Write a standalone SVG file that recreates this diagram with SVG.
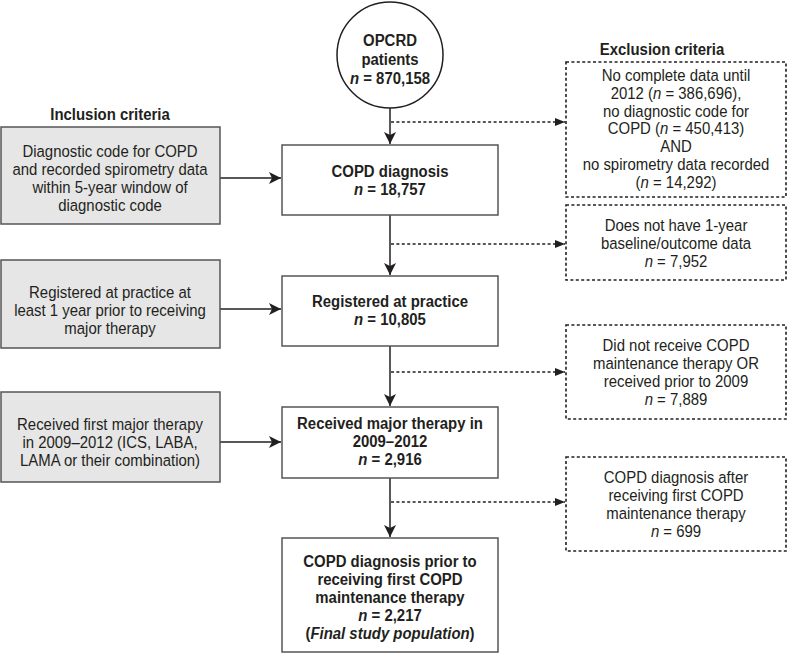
<svg xmlns="http://www.w3.org/2000/svg" width="787" height="656" viewBox="0 0 787 656">
<defs>
<style>
text{font-family:"Liberation Sans",Arial,sans-serif;font-size:16.6px;fill:#231f20;text-anchor:middle}
.b{font-weight:bold}
.i{font-style:italic}
.inc{fill:#e6e6e6;stroke:#555;stroke-width:1.5}
.main{fill:#fff;stroke:#555;stroke-width:1.5}
.exc{fill:#fff;stroke:#231f20;stroke-width:1.6;stroke-dasharray:3 2.4}
.solid{stroke:#231f20;stroke-width:1.5;fill:none}
.dot{stroke:#231f20;stroke-width:1.6;fill:none;stroke-dasharray:3 2.4}
</style>
<marker id="ah" markerWidth="12" markerHeight="12" refX="12" refY="6" orient="auto" markerUnits="userSpaceOnUse">
<path d="M0,0 L12,6 L0,12 L3,6 Z" fill="#231f20"/>
</marker>
<marker id="ahs" markerWidth="10" markerHeight="8" refX="10" refY="4" orient="auto" markerUnits="userSpaceOnUse">
<path d="M0,0 L10,4 L0,8 Z" fill="#231f20"/>
</marker>
</defs>

<g id="titles">
<g transform="matrix(0.9,0,0,1,110,0)"><text class="b" x="0" y="120">Inclusion criteria</text></g>
<g transform="matrix(0.9,0,0,1,662,0)"><text class="b" x="0" y="55">Exclusion criteria</text></g>
</g>

<g id="connectors">
<line class="solid" x1="390" y1="108" x2="390" y2="144" marker-end="url(#ah)"/>
<line class="solid" x1="390" y1="215" x2="390" y2="275" marker-end="url(#ah)"/>
<line class="solid" x1="390" y1="346" x2="390" y2="406" marker-end="url(#ah)"/>
<line class="solid" x1="390" y1="478" x2="390" y2="537" marker-end="url(#ah)"/>
<line class="dot" x1="391" y1="122" x2="565" y2="122" marker-end="url(#ahs)"/>
<line class="dot" x1="391" y1="244" x2="565" y2="244" marker-end="url(#ahs)"/>
<line class="dot" x1="391" y1="372" x2="565" y2="372" marker-end="url(#ahs)"/>
<line class="dot" x1="391" y1="502" x2="565" y2="502" marker-end="url(#ahs)"/>
<line class="solid" x1="220" y1="178" x2="281" y2="178" marker-end="url(#ah)"/>
<line class="solid" x1="220" y1="309" x2="281" y2="309" marker-end="url(#ah)"/>
<line class="solid" x1="220" y1="442" x2="281" y2="442" marker-end="url(#ah)"/>
</g>

<g id="opcrd">
<circle cx="390" cy="55" r="53" fill="#fff" stroke="#231f20" stroke-width="1.5"/>
<g transform="matrix(0.9,0,0,1,390,0)">
<text class="b" x="0" y="46">OPCRD</text>
<text class="b" x="0" y="65">patients</text>
<text class="b" x="0" y="84"><tspan class="i">n</tspan> = 870,158</text>
</g>
</g>

<g id="copd">
<rect class="main" x="282" y="145" width="216" height="70"/>
<g transform="matrix(0.9,0,0,1,390,0)">
<text class="b" x="0" y="177">COPD diagnosis</text>
<text class="b" x="0" y="195"><tspan class="i">n</tspan> = 18,757</text>
</g>
</g>

<g id="registered">
<rect class="main" x="282" y="276" width="216" height="70"/>
<g transform="matrix(0.9,0,0,1,390,0)">
<text class="b" x="0" y="307">Registered at practice</text>
<text class="b" x="0" y="325"><tspan class="i">n</tspan> = 10,805</text>
</g>
</g>

<g id="received">
<rect class="main" x="282" y="407" width="216" height="71"/>
<g transform="matrix(0.9,0,0,1,390,0)">
<text class="b" x="0" y="429">Received major therapy in</text>
<text class="b" x="0" y="447">2009–2012</text>
<text class="b" x="0" y="465"><tspan class="i">n</tspan> = 2,916</text>
</g>
</g>

<g id="final">
<rect class="main" x="282" y="538" width="216" height="114"/>
<g transform="matrix(0.9,0,0,1,390,0)">
<text class="b" x="0" y="567">COPD diagnosis prior to</text>
<text class="b" x="0" y="585">receiving first COPD</text>
<text class="b" x="0" y="603">maintenance therapy</text>
<text class="b" x="0" y="621"><tspan class="i">n</tspan> = 2,217</text>
<text class="b" x="0" y="639">(<tspan class="i">Final study population</tspan>)</text>
</g>
</g>

<g id="inc1">
<rect class="inc" x="1" y="127" width="219" height="97"/>
<g transform="matrix(0.9,0,0,1,110,0)">
<text x="0" y="157">Diagnostic code for COPD</text>
<text x="0" y="175">and recorded spirometry data</text>
<text x="0" y="193">within 5-year window of</text>
<text x="0" y="211">diagnostic code</text>
</g>
</g>

<g id="inc2">
<rect class="inc" x="1" y="260" width="219" height="88"/>
<g transform="matrix(0.9,0,0,1,110,0)">
<text x="0" y="298">Registered at practice at</text>
<text x="0" y="316">least 1 year prior to receiving</text>
<text x="0" y="334">major therapy</text>
</g>
</g>

<g id="inc3">
<rect class="inc" x="1" y="392" width="219" height="90"/>
<g transform="matrix(0.9,0,0,1,110,0)">
<text x="0" y="430">Received first major therapy</text>
<text x="0" y="448">in 2009–2012 (ICS, LABA,</text>
<text x="0" y="466">LAMA or their combination)</text>
</g>
</g>

<g id="exc1">
<rect class="exc" x="566" y="62" width="220" height="135"/>
<g transform="matrix(0.9,0,0,1,676,0)">
<text x="0" y="81">No complete data until</text>
<text x="0" y="99">2012 (<tspan class="i">n</tspan> = 386,696),</text>
<text x="0" y="117">no diagnostic code for</text>
<text x="0" y="134.5">COPD (<tspan class="i">n</tspan> = 450,413)</text>
<text x="0" y="152">AND</text>
<text x="0" y="170">no spirometry data recorded</text>
<text x="0" y="188">(<tspan class="i">n</tspan> = 14,292)</text>
</g>
</g>

<g id="exc2">
<rect class="exc" x="566" y="205" width="220" height="75"/>
<g transform="matrix(0.9,0,0,1,676,0)">
<text x="0" y="231">Does not have 1-year</text>
<text x="0" y="249">baseline/outcome data</text>
<text x="0" y="267"><tspan class="i">n</tspan> = 7,952</text>
</g>
</g>

<g id="exc3">
<rect class="exc" x="566" y="325" width="220" height="94"/>
<g transform="matrix(0.9,0,0,1,676,0)">
<text x="0" y="351">Did not receive COPD</text>
<text x="0" y="369">maintenance therapy OR</text>
<text x="0" y="387">received prior to 2009</text>
<text x="0" y="405"><tspan class="i">n</tspan> = 7,889</text>
</g>
</g>

<g id="exc4">
<rect class="exc" x="566" y="457" width="220" height="94"/>
<g transform="matrix(0.9,0,0,1,676,0)">
<text x="0" y="483">COPD diagnosis after</text>
<text x="0" y="501">receiving first COPD</text>
<text x="0" y="519">maintenance therapy</text>
<text x="0" y="537"><tspan class="i">n</tspan> = 699</text>
</g>
</g>
</svg>
